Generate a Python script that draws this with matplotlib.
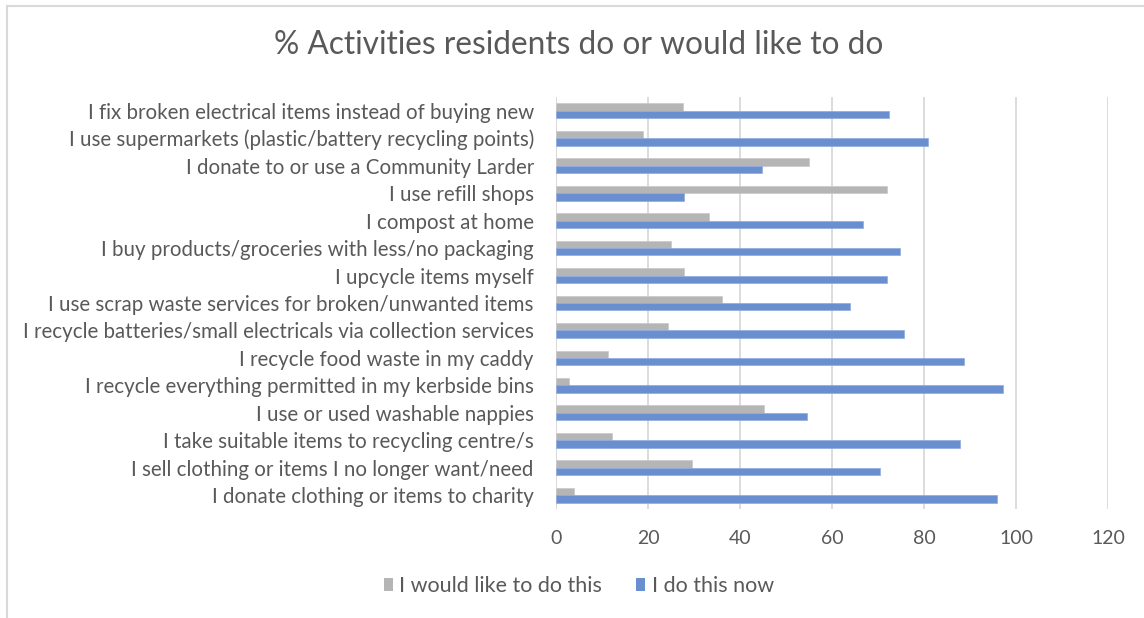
import numpy as np
import matplotlib.pyplot as plt
from matplotlib.lines import Line2D
from matplotlib.patches import Patch

plt.rcParams['font.family'] = ['Lato', 'DejaVu Sans']

# survey answers, listed top to bottom as they appear on the chart
activities = [
    "I fix broken electrical items instead of buying new",
    "I use supermarkets (plastic/battery recycling points)",
    "I donate to or use a Community Larder",
    "I use refill shops",
    "I compost at home",
    "I buy products/groceries with less/no packaging",
    "I upcycle items myself",
    "I use scrap waste services for broken/unwanted items",
    "I recycle batteries/small electricals via collection services",
    "I recycle food waste in my caddy",
    "I recycle everything permitted in my kerbside bins",
    "I use or used washable nappies",
    "I take suitable items to recycling centre/s",
    "I sell clothing or items I no longer want/need",
    "I donate clothing or items to charity",
]
would_like = [27.5, 19.0, 55.0, 72.0, 33.2, 25.1, 27.9, 36.0, 24.3, 11.3, 2.8, 45.3, 12.1, 29.5, 4.0]
do_now = [72.4, 80.9, 44.8, 27.9, 66.7, 74.8, 71.9, 63.9, 75.6, 88.6, 97.1, 54.6, 87.8, 70.4, 95.8]

grey = '#b5b5b5'
blue = '#6a8fd0'
txt = '#595959'

fig = plt.figure(figsize=(11.44, 6.18), dpi=100)
ax = fig.add_axes([556 / 1144, 1 - 509 / 618, (1108 - 556) / 1144, (509 - 97) / 618])

y = np.arange(len(activities))
h = 0.27
ax.barh(y - h / 2, would_like, height=h, color=grey, edgecolor='#c8c8c8', linewidth=0.5, zorder=3)
ax.barh(y + h / 2, do_now, height=h, color=blue, edgecolor='#8eaadc', linewidth=0.5, zorder=3)

ax.set_ylim(len(activities) - 0.5, -0.5)
ax.set_xlim(0, 120)
ax.set_xticks(np.arange(0, 121, 20))
ax.set_yticks(y)
ax.set_yticklabels(activities)
ax.grid(axis='x', color='#d9d9d9', linewidth=1.3, zorder=0)
ax.axvline(0, color='#d9d9d9', linewidth=1.3, zorder=1)
for s in ax.spines.values():
    s.set_visible(False)
ax.tick_params(axis='y', length=0, pad=16, labelsize=14.8, labelcolor=txt)
ax.tick_params(axis='x', length=0, pad=15, labelsize=14, labelcolor=txt)

fig.text(0.506, 1 - 45 / 618, "% Activities residents do or would like to do",
         ha='center', va='center', fontsize=22.8, color=txt)

handles = [Patch(facecolor=grey, label="I would like to do this"),
           Patch(facecolor=blue, label="I do this now")]
fig.legend(handles=handles, loc='center', bbox_to_anchor=(0.506, 1 - 586 / 618), ncol=2,
           frameon=False, fontsize=15.5, labelcolor=txt, handlelength=0.4, handleheight=0.6,
           handletextpad=0.3, columnspacing=1.6)

# light chart frame
fig.add_artist(Line2D([7 / 1144, 7 / 1144], [0, 1 - 6 / 618], transform=fig.transFigure,
                      color='#d9d9d9', linewidth=1.5))
fig.add_artist(Line2D([7 / 1144, 1], [1 - 6 / 618, 1 - 6 / 618], transform=fig.transFigure,
                      color='#d9d9d9', linewidth=1.5))

fig.savefig("out.png", dpi=100)
